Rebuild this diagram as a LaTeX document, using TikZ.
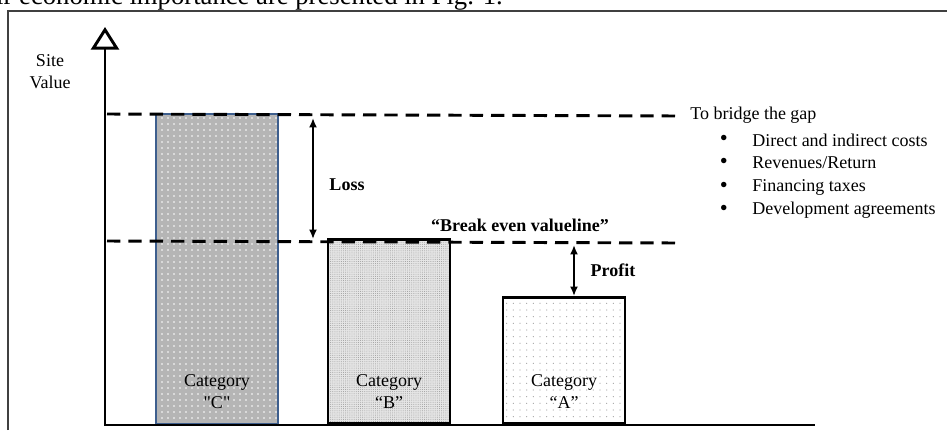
\documentclass[tikz,border=0pt]{standalone}
\usepackage{fontspec}
\setmainfont{Liberation Serif}
\usetikzlibrary{positioning,arrows.meta,patterns.meta}

\definecolor{barblue}{HTML}{3E5F8E}

\begin{document}
\begin{tikzpicture}
  [x=0.75pt,y=-0.75pt,
   font=\fontsize{13.5}{16.5}\selectfont,
   bar/.style={draw,line width=2.2pt,minimum width=91.5pt,anchor=south,inner sep=0pt},
   axis/.style={line width=2.2pt},
   level/.style={line width=2.2pt,dash pattern=on 10pt off 6pt},
   gap/.style={{Latex[length=7pt,width=6pt]}-{Latex[length=7pt,width=6pt]},line width=1.4pt},
   item/.style={anchor=west,inner sep=0pt,
                label={[label distance=18pt,inner sep=0pt]left:{\fontsize{17}{17}\selectfont\textbullet}}},
   catlabel/.style={align=center}]
  \useasboundingbox (0,0) rectangle (947,430);
  \clip (0,0) rectangle (947,430);

  % running text above the frame
  \node[anchor=base east,inner sep=0pt,font=\fontsize{20}{24}\selectfont] (caption)
       at (503,4.5) {ir economic importance are presented in Fig. 1.};
  \draw[line width=1.1pt,black!75] (8,430) -- (8,11) -- (947,11);

  % the three categories
  \node[bar,draw=barblue,line width=1.8pt,minimum height=232.5pt,
        preaction={fill=gray!58},pattern={Dots[distance=4.5pt,radius=0.6pt]},
        pattern color=white] (barC) at (217,425) {};
  \node[bar,minimum height=138pt,
        preaction={fill=gray!20},pattern={Dots[distance=1.6pt,radius=0.35pt]},
        pattern color=gray!80] (barB) at (389,425) {};
  \node[bar,minimum height=94.5pt,
        preaction={fill=white},pattern={Dots[distance=5pt,radius=0.45pt]},
        pattern color=gray!70] (barA) at (564,425) {};

  \node[catlabel,above=9pt of barC.south] (labC) {Category\\\textquotedbl C\textquotedbl};
  \node[catlabel,above=9pt of barB.south] (labB) {Category\\“B”};
  \node[catlabel,above=9pt of barA.south] (labA) {Category\\“A”};

  % axes
  \coordinate (origin) at (105,425);
  \coordinate (ytop)   at (105,27);
  \coordinate (xend)   at (815,425);
  \draw[axis,{Triangle[open,length=17pt,width=21pt]}-] (ytop) -- (origin) -- (xend);
  \node[align=center] (ylabel) at (50,72) {Site\\Value};

  % value lines
  \coordinate (costL)  at (107,114);
  \coordinate (costR)  at (680,116);
  \coordinate (evenL)  at (107,241);
  \coordinate (evenR)  at (680,243);
  \draw[level] (costL) -- (costR);
  \draw[level] (evenL) -- (evenR);

  \coordinate (lossT)   at (313,118);
  \coordinate (lossB)   at (313,239);
  \coordinate (profitT) at (574,245);
  \coordinate (profitB) at (574,296);
  \draw[gap] (lossT) -- (lossB);
  \draw[gap] (profitT) -- (profitB);

  \node[font=\fontsize{13.5}{16.5}\selectfont\bfseries] (loss)   at (347,185) {Loss};
  \node[font=\fontsize{13.5}{16.5}\selectfont\bfseries] (profit) at (613,270) {Profit};
  \node[font=\fontsize{13.5}{16.5}\selectfont\bfseries] (even)   at (520,225) {“Break even valueline”};

  % what closes the gap
  \node[anchor=west,inner sep=0pt] (bridge) at (690,115) {To bridge the gap};
  \node[item] (costs)   at (752,140) {Direct and indirect costs};
  \node[item] (revenue) at (752,163) {Revenues/Return};
  \node[item] (taxes)   at (752,187) {Financing taxes};
  \node[item] (deals)   at (752,210) {Development agreements};
\end{tikzpicture}
\end{document}
